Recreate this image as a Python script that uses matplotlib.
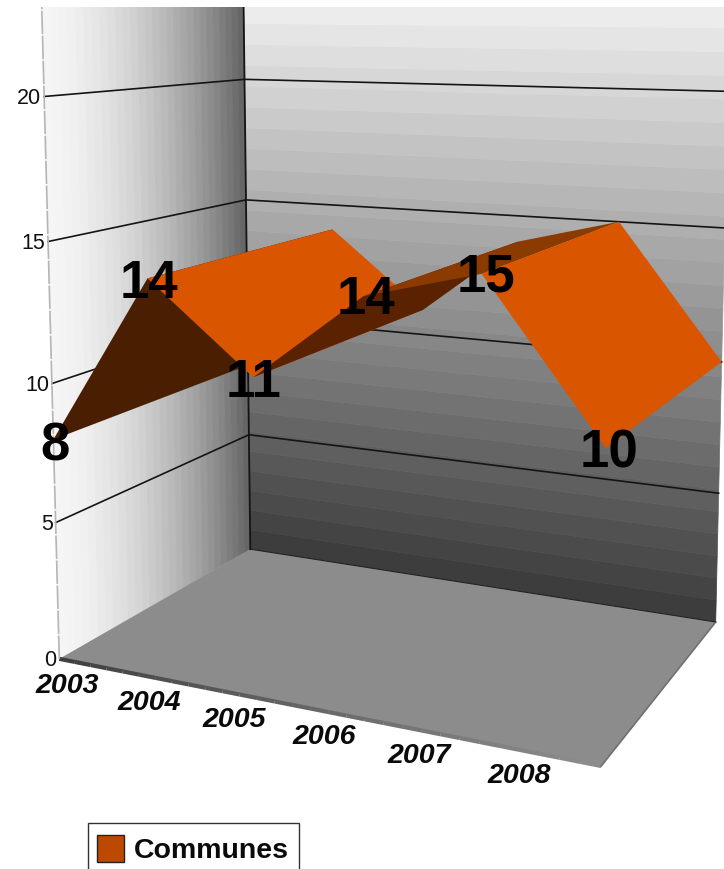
import numpy as np
import matplotlib
matplotlib.use("Agg")
import matplotlib.pyplot as plt
from matplotlib.patches import Polygon, Rectangle

plt.rcParams['font.family'] = ['Liberation Sans', 'DejaVu Sans']

years = ["2003", "2004", "2005", "2006", "2007", "2008"]
communes = [8, 14, 11, 14, 15, 10]
y_ticks = [0, 5, 10, 15, 20]
y_top = 24

# offsets of the value labels from the ribbon's front edge, in pixels
label_dx = [2, 1, 0, 3, 4, 3]
label_dy = [0, -1, -1, -3, -3, -1]
# top side / underside shades, one per ribbon segment
segment_colors = ["#4a1e00", "#da5500", "#5a2200", "#8b3a00", "#da5500"]

calib = [
    (0, 0, 0, 60, 660, 3), (1, 0, 0, 600, 768, 3), (1, 0, 1, 716, 622, 3), (0, 0, 1, 250, 550, 3),
    (0, 5, 0, 55, 523, 1), (0, 10, 0, 50, 385, 1), (0, 15, 0, 48, 243, 1), (0, 20, 0, 44, 98, 1),
    (0, 5, 1, 248, 437, 1), (0, 15, 1, 245, 201, 1), (0, 20, 1, 244, 79, 1),
    (1, 5, 1, 724, 497, 1), (1, 15, 1, 724, 232, 1), (1, 20, 1, 724, 94, 1),
    (1, 10, 1, 724, 365, 1), (1, 10, 0, 605, 448, 2),
    (0.4, 11, 1, 423, 312, 1), (0.4, 11, 0, 255, 378, 1), (0.8, 15, 0, 490, 268, 1),
]


def fit_camera(points):
    rows = []
    for x, v, z, px, py, w in points:
        rows.append([w * c for c in [x, v, z, 1, 0, 0, 0, 0, -px * x, -px * v, -px * z, -px]])
        rows.append([w * c for c in [0, 0, 0, 0, x, v, z, 1, -py * x, -py * v, -py * z, -py]])
    return np.linalg.svd(np.array(rows, dtype=float))[2][-1].reshape(3, 4)


cam = fit_camera(calib)


def project(x, v, z):
    p = cam @ np.array([x, v, z, 1.0])
    return p[0] / p[2], p[1] / p[2]


fig = plt.figure(figsize=(7.24, 8.7), dpi=100)
ax = fig.add_axes([0, 0, 1, 1])
ax.set_xlim(0, 724)
ax.set_ylim(870, 0)
ax.axis("off")
clip = Rectangle((0, 8), 724, 862, transform=ax.transData)

# back wall, banded from light at the top to dark at the bottom
n_bands = 28
for i in range(n_bands):
    v0 = y_top * i / n_bands
    v1 = y_top * (i + 1) / n_bands
    shade = 0.24 + 0.71 * (i / (n_bands - 1))
    quad = [project(0, v0, 1), project(1, v0, 1), project(1, v1, 1), project(0, v1, 1)]
    p = Polygon(quad, closed=True, fc=str(shade), ec=str(shade), lw=0.5, zorder=1)
    ax.add_patch(p)
    p.set_clip_path(clip)

# left wall, banded from light at the front to dark at the back
n_bands = 28
for i in range(n_bands):
    z0 = i / n_bands
    z1 = (i + 1) / n_bands
    shade = 0.96 - 0.56 * (i / (n_bands - 1)) ** 1.5
    quad = [project(0, 0, z0), project(0, 0, z1), project(0, y_top, z1), project(0, y_top, z0)]
    p = Polygon(quad, closed=True, fc=str(shade), ec=str(shade), lw=0.5, zorder=2)
    ax.add_patch(p)
    p.set_clip_path(clip)

# floor with its thin front edge
floor = [project(0, 0, 0), project(1, 0, 0), project(1, 0, 1), project(0, 0, 1)]
ax.add_patch(Polygon(floor, closed=True, fc="#8c8c8c", ec="none", zorder=3))
for i in range(30):
    a = project(i / 30, 0, 0)
    b = project((i + 1) / 30, 0, 0)
    ax.plot([a[0], b[0]], [a[1], b[1]], color=str(0.25 + 0.3 * i / 29), lw=3,
            solid_capstyle="butt", zorder=4)
a = project(1, 0, 0)
b = project(1, 0, 1)
ax.plot([a[0], b[0]], [a[1], b[1]], color="#707070", lw=1.2, zorder=4)

# grid lines, wall edges
for t in y_ticks:
    pts = [project(0, t, 0), project(0, t, 1), project(1, t, 1)]
    if t > 0:
        ax.plot([q[0] for q in pts], [q[1] for q in pts], color="#141414", lw=1.2, zorder=5)
    else:
        ax.plot([pts[1][0], pts[2][0]], [pts[1][1], pts[2][1]], color="#222222", lw=0.8, zorder=5)
    ax.text(pts[0][0] - 3, pts[0][1] + 1, str(t), ha="right", va="center", fontsize=15.5, color="#111111", zorder=9)

a = project(0, 0, 1)
b = project(0, y_top, 1)
line, = ax.plot([a[0], b[0]], [a[1], b[1]], color="#141414", lw=1.3, zorder=5)
line.set_clip_path(clip)
a = project(0, 0, 0)
b = project(0, y_top, 0)
line, = ax.plot([a[0], b[0]], [a[1], b[1]], color="#b5b5b5", lw=1.2, ls=(0, (14, 1)), zorder=5)
line.set_clip_path(clip)

# ribbon, one quad per pair of years
xs = np.arange(len(communes)) / (len(communes) - 1)
for i in range(len(communes) - 1):
    quad = [project(xs[i], communes[i], 0), project(xs[i], communes[i], 1),
            project(xs[i + 1], communes[i + 1], 1), project(xs[i + 1], communes[i + 1], 0)]
    ax.add_patch(Polygon(quad, closed=True, fc=segment_colors[i], ec="none", zorder=6))

for i, val in enumerate(communes):
    px, py = project(xs[i], val, 0)
    ax.text(px + label_dx[i], py + label_dy[i], str(val), ha="center", va="center_baseline",
            fontsize=38, fontweight="bold", color="black", zorder=10)

# year labels under the front edge
for i, year in enumerate(years):
    px, py = project((i * 1.02 + 0.1) / 6, 0, 0)
    ax.text(px, py + 25, year, ha="center", va="center", fontsize=20.5,
            fontweight="bold", fontstyle="italic", color="#0a0a0a", zorder=9)

# legend, its box runs off the bottom of the picture
ax.add_patch(Rectangle((87.5, 823.5), 211, 60, fc="white", ec="#333333", lw=1, zorder=9))
ax.add_patch(Rectangle((97, 836), 27, 27, fc="#bb4a00", ec="#222222", lw=1, zorder=10))
ax.text(134, 851, "Communes", ha="left", va="center", fontsize=20.5, fontweight="bold", color="#0a0a0a", zorder=10)

plt.savefig("out.png", dpi=100)
